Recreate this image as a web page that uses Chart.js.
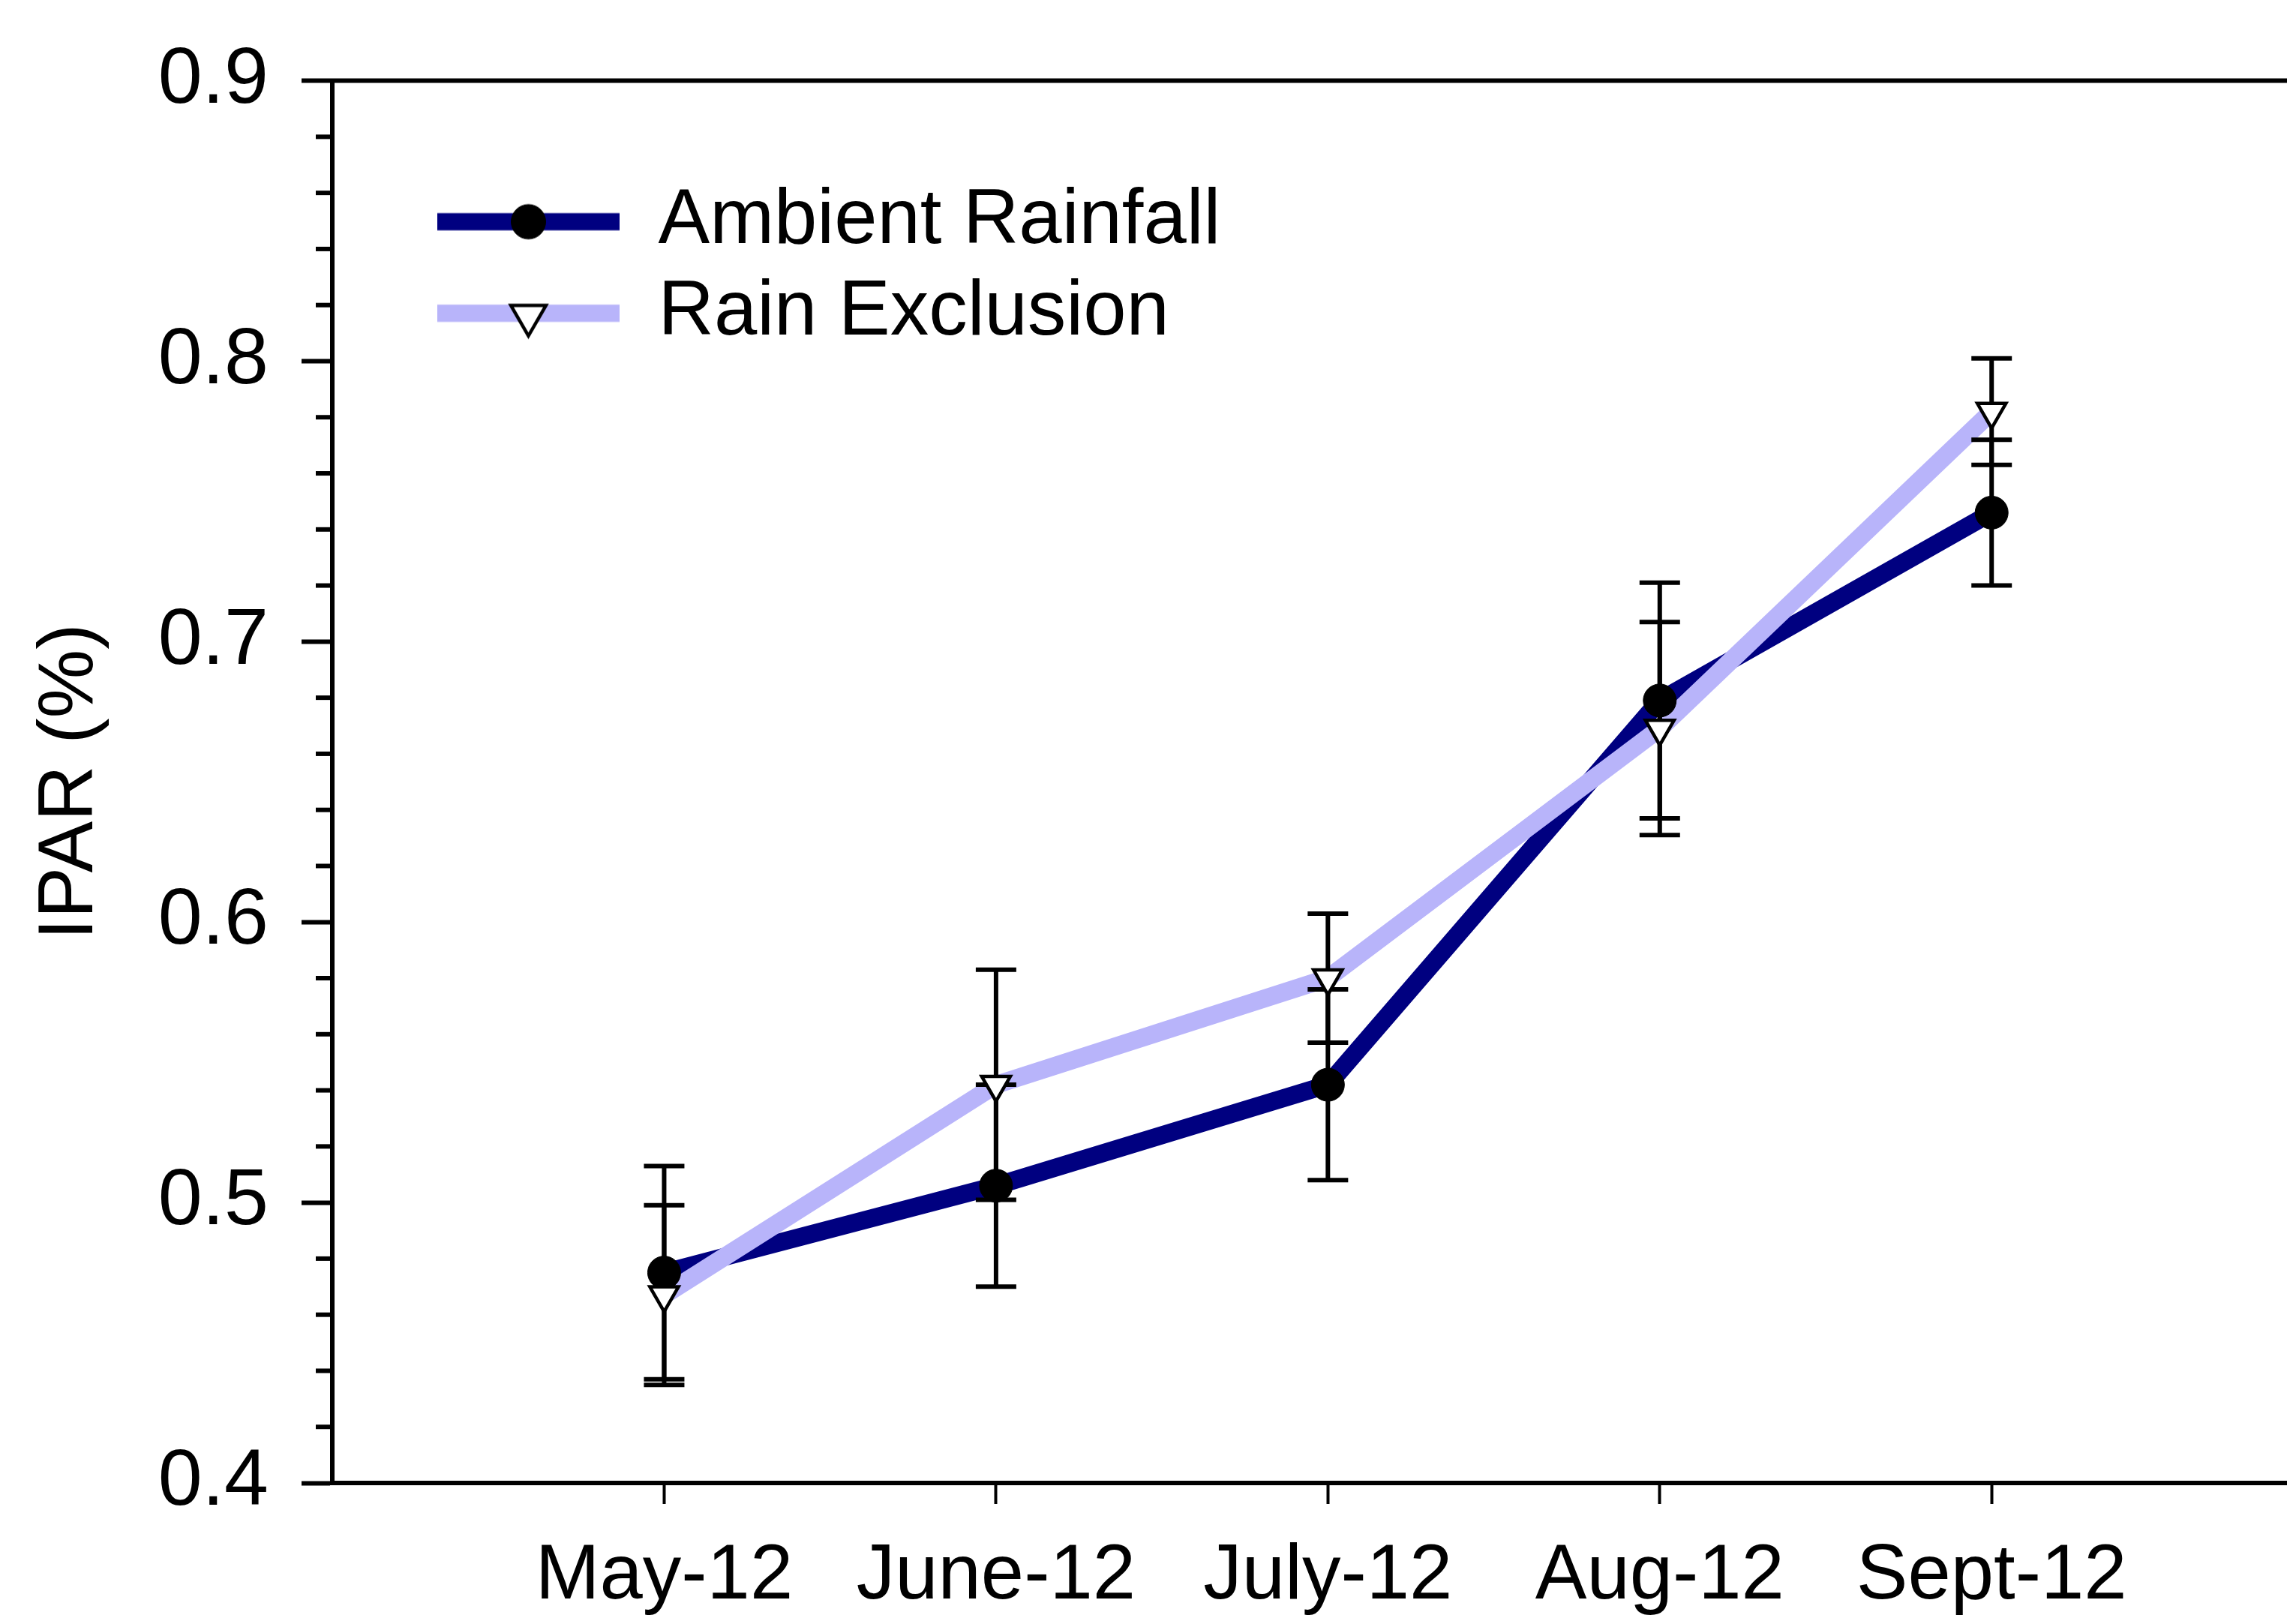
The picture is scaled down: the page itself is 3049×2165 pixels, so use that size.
<!DOCTYPE html>
<html>
<head>
<meta charset="utf-8">
<title>IPAR (%)</title>
<script src="https://cdn.jsdelivr.net/npm/chart.js@4.4.1/dist/chart.umd.min.js"></script>
<style>
  html, body { margin: 0; padding: 0; background: #ffffff; overflow: hidden; }
  canvas { display: block; }
</style>
</head>
<body>
<canvas id="chart" width="3049" height="2165"></canvas>
<script>
// Monthly intercepted PAR, mean ± error, for the two rainfall treatments
const categories = ['May-12', 'June-12', 'July-12', 'Aug-12', 'Sept-12'];
const ambientRainfall = [0.475, 0.506, 0.542, 0.679, 0.746];
const ambientRainfallErr = [0.038, 0.036, 0.034, 0.042, 0.026];
const rainExclusion = [0.467, 0.542, 0.580, 0.669, 0.782];
const rainExclusionErr = [0.032, 0.041, 0.023, 0.038, 0.019];
const yTickValues = [0.4, 0.5, 0.6, 0.7, 0.8, 0.9];
const yMinorStep = 0.02;

const FONT = "'Liberation Sans', Arial, sans-serif";
const NAVY = '#000080';
const LAVENDER = '#B8B4FA';

const toPoints = vals => vals.map((v, i) => ({ x: i, y: v }));

// Legend symbol: a thick line segment with the series marker in the middle
function legendSwatch(lineColor, marker) {
  const c = document.createElement('canvas');
  c.width = 243;
  c.height = 70;
  const g = c.getContext('2d');
  g.fillStyle = lineColor;
  g.fillRect(0, 23.5, 243, 23);
  g.fillStyle = marker.fill;
  g.strokeStyle = '#000';
  g.lineWidth = marker.borderWidth;
  Chart.helpers.drawPoint(g, marker, 121.5, marker.cy);
  return c;
}
const ambientSwatch = legendSwatch(NAVY, { pointStyle: 'circle', radius: 23, rotation: 0, borderWidth: 1, fill: '#000', cy: 35 });
const exclusionSwatch = legendSwatch(LAVENDER, { pointStyle: 'triangle', radius: 27, rotation: 180, borderWidth: 4.5, fill: '#fff', cy: 38 });

// Error bars sit above both lines but beneath the markers
const errorBars = {
  id: 'errorBars',
  afterDatasetDraw(chart, args) {
    if (args.index !== 1) return;
    const { ctx, scales: { x, y } } = chart;
    const series = [[ambientRainfall, ambientRainfallErr], [rainExclusion, rainExclusionErr]];
    ctx.save();
    ctx.strokeStyle = '#000';
    ctx.lineWidth = 6;
    ctx.lineCap = 'butt';
    const cap = 27;
    series.forEach(([vals, errs]) => {
      vals.forEach((v, i) => {
        const px = x.getPixelForValue(i);
        const top = y.getPixelForValue(v + errs[i]);
        const bot = y.getPixelForValue(v - errs[i]);
        ctx.beginPath();
        ctx.moveTo(px, top); ctx.lineTo(px, bot);
        ctx.moveTo(px - cap, top); ctx.lineTo(px + cap, top);
        ctx.moveTo(px - cap, bot); ctx.lineTo(px + cap, bot);
        ctx.stroke();
      });
    });
    ctx.restore();
  }
};

// Top frame line and the minor ticks of the value axis
const frameAndMinorTicks = {
  id: 'frameAndMinorTicks',
  afterDraw(chart) {
    const { ctx, chartArea, scales: { y } } = chart;
    ctx.save();
    ctx.strokeStyle = '#000';
    ctx.lineWidth = 6;
    ctx.beginPath();
    ctx.moveTo(chartArea.left - 3, chartArea.top);
    ctx.lineTo(chartArea.right, chartArea.top);
    ctx.stroke();
    for (let i = 0; i < yTickValues.length - 1; i++) {
      for (let v = yTickValues[i] + yMinorStep; v < yTickValues[i + 1] - 1e-9; v += yMinorStep) {
        const py = y.getPixelForValue(v);
        ctx.beginPath();
        ctx.moveTo(chartArea.left - 22, py);
        ctx.lineTo(chartArea.left, py);
        ctx.stroke();
      }
    }
    ctx.restore();
  }
};

// Place the legend block in the upper-left corner of the plot
const legendPlacement = {
  id: 'legendPlacement',
  afterLayout(chart) {
    const lg = chart.legend;
    if (!lg) return;
    const pad = lg.options.labels.padding;
    lg.left = chart.chartArea.left + 140 - pad;
    lg.top = chart.chartArea.top + 188 - lg.options.labels.font.size / 2 - pad;
    lg.right = chart.width;
    lg.bottom = chart.chartArea.bottom;
  }
};

new Chart(document.getElementById('chart'), {
  type: 'line',
  data: {
    datasets: [
      { label: 'Ambient Rainfall', data: toPoints(ambientRainfall), borderColor: NAVY, borderWidth: 24,
        borderJoinStyle: 'round', pointRadius: 0, tension: 0, fill: false, order: 4 },
      { label: 'Rain Exclusion', data: toPoints(rainExclusion), borderColor: LAVENDER, borderWidth: 24,
        borderJoinStyle: 'round', pointRadius: 0, tension: 0, fill: false, order: 3 },
      { label: 'Ambient Rainfall', data: toPoints(ambientRainfall), showLine: false, pointStyle: 'circle',
        pointRadius: 22, pointBackgroundColor: '#000', pointBorderColor: '#000', pointBorderWidth: 1, order: 2 },
      { label: 'Rain Exclusion', data: toPoints(rainExclusion), showLine: false, pointStyle: 'triangle',
        pointRotation: 180, pointRadius: 22, pointBackgroundColor: '#fff', pointBorderColor: '#000',
        pointBorderWidth: 4.5, order: 1 }
    ]
  },
  options: {
    responsive: false,
    animation: false,
    devicePixelRatio: 1,
    events: [],
    layout: { autoPadding: false, padding: { top: 107, left: 0, right: 0, bottom: 0 } },
    scales: {
      x: {
        type: 'linear',
        min: -1,
        max: 4.89,
        afterBuildTicks: s => { s.ticks = categories.map((_, i) => ({ value: i })); },
        afterFit: s => { s.height = 188; },
        ticks: {
          callback: v => categories[v] ?? '',
          font: { family: FONT, size: 103 },
          color: '#000',
          padding: 36,
          maxRotation: 0,
          autoSkip: false
        },
        grid: { drawOnChartArea: false, drawTicks: true, tickLength: 28, tickWidth: 4, tickColor: '#000', color: '#000' },
        border: { display: true, color: '#000', width: 6 }
      },
      y: {
        type: 'linear',
        min: 0.4,
        max: 0.9,
        afterBuildTicks: s => { s.ticks = yTickValues.map(v => ({ value: v })); },
        afterFit: s => { s.width = 443; },
        ticks: {
          callback: v => v.toFixed(1),
          font: { family: FONT, size: 106 },
          color: '#000',
          padding: 44
        },
        grid: { drawOnChartArea: false, drawTicks: true, tickLength: 41, tickWidth: 6, tickColor: '#000', color: '#000' },
        border: { display: true, color: '#000', width: 6 },
        title: {
          display: true,
          text: 'IPAR (%)',
          font: { family: FONT, size: 103 },
          color: '#000',
          padding: { top: 33, bottom: 0 }
        }
      }
    },
    plugins: {
      tooltip: { enabled: false },
      legend: {
        display: true,
        position: 'chartArea',
        align: 'start',
        labels: {
          usePointStyle: true,
          pointStyleWidth: 243,
          padding: 19,
          font: { family: FONT, size: 103 },
          color: '#000',
          generateLabels: chart => [
            { text: chart.data.datasets[0].label, pointStyle: ambientSwatch, fontColor: '#000', lineWidth: 0, hidden: false, datasetIndex: 0 },
            { text: chart.data.datasets[1].label, pointStyle: exclusionSwatch, fontColor: '#000', lineWidth: 0, hidden: false, datasetIndex: 1 }
          ]
        }
      }
    }
  },
  plugins: [errorBars, frameAndMinorTicks, legendPlacement]
});
</script>
</body>
</html>
